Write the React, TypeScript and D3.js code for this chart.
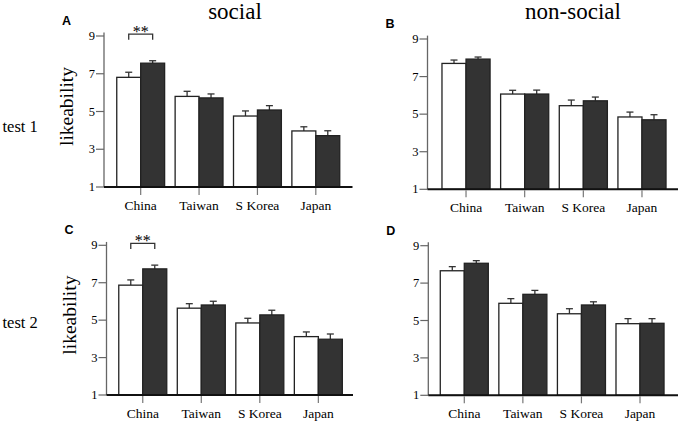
import * as d3 from 'd3';

// country groups on the x axis
const categories = ['China', 'Taiwan', 'S Korea', 'Japan'];
const yTicks = [1, 3, 5, 7, 9];

// mean likeability (white = first bar, dark = second bar) and standard errors
const socialTest1White = [6.81, 5.8, 4.76, 3.97];
const socialTest1WhiteSe = [0.27, 0.27, 0.27, 0.22];
const socialTest1Dark = [7.56, 5.72, 5.08, 3.72];
const socialTest1DarkSe = [0.13, 0.21, 0.23, 0.26];

const nonSocialTest1White = [7.7, 6.07, 5.45, 4.85];
const nonSocialTest1WhiteSe = [0.18, 0.2, 0.3, 0.26];
const nonSocialTest1Dark = [7.93, 6.07, 5.71, 4.7];
const nonSocialTest1DarkSe = [0.11, 0.21, 0.2, 0.27];

const socialTest2White = [6.87, 5.64, 4.85, 4.12];
const socialTest2WhiteSe = [0.28, 0.24, 0.25, 0.25];
const socialTest2Dark = [7.74, 5.81, 5.28, 3.98];
const socialTest2DarkSe = [0.2, 0.2, 0.25, 0.28];

const nonSocialTest2White = [7.66, 5.92, 5.36, 4.83];
const nonSocialTest2WhiteSe = [0.22, 0.25, 0.27, 0.27];
const nonSocialTest2Dark = [8.06, 6.4, 5.83, 4.85];
const nonSocialTest2DarkSe = [0.14, 0.21, 0.17, 0.25];

type PanelProps = {
    letter: string;
    axisX: number;
    y9: number;
    y1: number;
    x0: number;
    x1: number;
    xEnd: number;
    white: number[];
    whiteSe: number[];
    dark: number[];
    darkSe: number[];
    sig?: boolean;
    yLabel?: boolean;
};

const Panel = (p: PanelProps) => {
    const y = d3.scaleLinear().domain([1, 9]).range([p.y1, p.y9]);
    const x = d3.scaleBand<string>().domain(categories).range([p.x0, p.x1]).paddingInner(0.18).paddingOuter(0.09);
    const inner = d3.scaleBand<string>().domain(['white', 'dark']).range([0, x.bandwidth()]);
    const bw = inner.bandwidth();
    const series = [
        { key: 'white', vals: p.white, se: p.whiteSe, fill: '#ffffff' },
        { key: 'dark', vals: p.dark, se: p.darkSe, fill: '#333333' },
    ];
    const cap = 3.5;
    return (
        <g>
            <text x={p.axisX - 42} y={p.y9 - 11} style={{ fontFamily: 'Liberation Sans', fontWeight: 'bold', fontSize: 12.5 }}>
                {p.letter}
            </text>
            {p.yLabel && (
                <text
                    transform={`translate(${p.axisX - 31},${(p.y1 + p.y9) / 2 - 5}) rotate(-90)`}
                    textAnchor="middle"
                    style={{ fontFamily: 'Liberation Serif', fontSize: 19.5 }}
                >
                    likeability
                </text>
            )}
            {/* y axis */}
            <line x1={p.axisX} x2={p.axisX} y1={y(1)} y2={y(9.18)} stroke="#666" strokeWidth={1.3} />
            {yTicks.map((t) => (
                <g key={t}>
                    <line x1={p.axisX - 8} x2={p.axisX} y1={y(t)} y2={y(t)} stroke="#666" strokeWidth={1.2} />
                    <text
                        x={p.axisX - 9}
                        y={y(t)}
                        dy="0.33em"
                        textAnchor="end"
                        style={{ fontFamily: 'Liberation Serif', fontSize: 12.5 }}
                    >
                        {t}
                    </text>
                </g>
            ))}
            {/* bars */}
            {series.map((s) =>
                categories.map((c, i) => {
                    const bx = (x(c) ?? 0) + (inner(s.key) ?? 0);
                    const cx = bx + bw / 2;
                    return (
                        <g key={s.key + c}>
                            <line x1={cx} x2={cx} y1={y(s.vals[i])} y2={y(s.vals[i] + s.se[i])} stroke="#333" strokeWidth={1.3} />
                            <line
                                x1={cx - cap}
                                x2={cx + cap}
                                y1={y(s.vals[i] + s.se[i])}
                                y2={y(s.vals[i] + s.se[i])}
                                stroke="#333"
                                strokeWidth={1.3}
                            />
                            <rect
                                x={bx}
                                y={y(s.vals[i])}
                                width={bw}
                                height={y(1) - y(s.vals[i])}
                                fill={s.fill}
                                stroke="#222"
                                strokeWidth={1.3}
                            />
                        </g>
                    );
                }),
            )}
            {/* x axis */}
            <line x1={p.axisX} x2={p.xEnd} y1={y(1)} y2={y(1)} stroke="#111" strokeWidth={2} />
            {categories.map((c) => {
                const cx = (x(c) ?? 0) + x.bandwidth() / 2;
                return (
                    <g key={c}>
                        <line x1={cx} x2={cx} y1={y(1) + 1} y2={y(1) + 8} stroke="#777" strokeWidth={1.2} />
                        <text x={cx} y={y(1) + 22.5} textAnchor="middle" style={{ fontFamily: 'Liberation Serif', fontSize: 13.5 }}>
                            {c}
                        </text>
                    </g>
                );
            })}
            {p.sig &&
                (() => {
                    const c = categories[0];
                    const l = (x(c) ?? 0) + (inner('white') ?? 0) + bw / 2;
                    const r = (x(c) ?? 0) + (inner('dark') ?? 0) + bw / 2;
                    return (
                        <g>
                            <path
                                d={`M${l},${y(8.8)}V${y(9.1)}H${r}V${y(8.8)}`}
                                fill="none"
                                stroke="#333"
                                strokeWidth={1.3}
                            />
                            <text
                                x={(l + r) / 2}
                                y={y(9.1) + 2.5}
                                textAnchor="middle"
                                style={{ fontFamily: 'Liberation Serif', fontSize: 16 }}
                            >
                                **
                            </text>
                        </g>
                    );
                })()}
        </g>
    );
};

export default function App() {
    return (
        <svg width={680} height={422} style={{ position: 'absolute', left: 0, top: 0, background: '#fff' }}>
            <text x={235} y={18.5} textAnchor="middle" style={{ fontFamily: 'Liberation Serif', fontSize: 23 }}>
                social
            </text>
            <text x={573} y={18.5} textAnchor="middle" style={{ fontFamily: 'Liberation Serif', fontSize: 23 }}>
                non-social
            </text>
            <text x={2.5} y={131.5} style={{ fontFamily: 'Liberation Serif', fontSize: 16.5 }}>
                test 1
            </text>
            <text x={2.5} y={328} style={{ fontFamily: 'Liberation Serif', fontSize: 16.5 }}>
                test 2
            </text>
            <Panel
                letter="A"
                axisX={104}
                y9={36}
                y1={187}
                x0={111.5}
                x1={345}
                xEnd={352.5}
                white={socialTest1White}
                whiteSe={socialTest1WhiteSe}
                dark={socialTest1Dark}
                darkSe={socialTest1DarkSe}
                sig
                yLabel
            />
            <Panel
                letter="B"
                axisX={427.5}
                y9={39}
                y1={189.3}
                x0={436.7}
                x1={671.3}
                xEnd={678}
                white={nonSocialTest1White}
                whiteSe={nonSocialTest1WhiteSe}
                dark={nonSocialTest1Dark}
                darkSe={nonSocialTest1DarkSe}
            />
            <Panel
                letter="C"
                axisX={106.5}
                y9={245.3}
                y1={395}
                x0={113.5}
                x1={347.6}
                xEnd={353}
                white={socialTest2White}
                whiteSe={socialTest2WhiteSe}
                dark={socialTest2Dark}
                darkSe={socialTest2DarkSe}
                sig
                yLabel
            />
            <Panel
                letter="D"
                axisX={428.3}
                y9={245.7}
                y1={395.3}
                x0={435}
                x1={669.3}
                xEnd={678}
                white={nonSocialTest2White}
                whiteSe={nonSocialTest2WhiteSe}
                dark={nonSocialTest2Dark}
                darkSe={nonSocialTest2DarkSe}
            />
        </svg>
    );
}
